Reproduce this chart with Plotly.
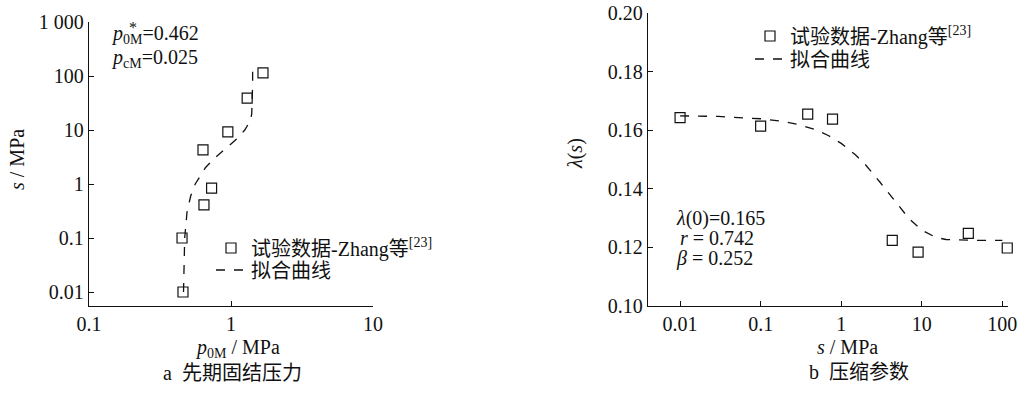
import plotly.graph_objects as go

W, H = 1022, 394

# ---- panel a: preconsolidation pressure vs suction ----
a_data_p0 = [0.459, 0.452, 0.645, 0.73, 0.635, 0.95, 1.30, 1.68]
a_data_s = [0.01, 0.1, 0.41, 0.84, 4.27, 9.2, 39, 114]
a_fit_s = [0.01, 0.03, 0.1, 0.3, 0.6, 1, 2, 3, 5, 7, 10, 15, 20, 40, 70, 120]
a_fit_p0 = [0.463, 0.465, 0.472, 0.49, 0.52, 0.56, 0.66, 0.765, 0.95, 1.11,
            1.25, 1.37, 1.40, 1.42, 1.42, 1.42]
a_yticks = [0.01, 0.1, 1, 10, 100, 1000]
a_yticktext = ["0.01", "0.1", "1", "10", "100", "1 000"]
a_xticks = [0.1, 1, 10]
a_xticktext = ["0.1", "1", "10"]

# ---- panel b: compression parameter vs suction ----
b_data_s = [0.01, 0.1, 0.384, 0.78, 4.3, 9.0, 37.8, 115]
b_data_lam = [0.1643, 0.1614, 0.1655, 0.1638, 0.1224, 0.1184, 0.1248, 0.1198]
b_fit_s = [0.01, 0.03, 0.1, 0.2, 0.3, 0.5, 0.7, 1, 1.5, 2, 3, 4, 5, 7, 10,
           15, 20, 30, 50, 100]
b_fit_lam = [0.1649, 0.1647, 0.1639, 0.1629, 0.1619, 0.1600, 0.1581, 0.1555,
             0.1516, 0.1482, 0.1424, 0.1380, 0.1345, 0.1297, 0.1259, 0.1234,
             0.1227, 0.1225, 0.1224, 0.1224]
b_xticks = [0.01, 0.1, 1, 10, 100]
b_xticktext = ["0.01", "0.1", "1", "10", "100"]

legend_data = "试验数据-Zhang等<sup>[23]</sup>"
legend_fit = "拟合曲线"

FONT = "Liberation Serif, Noto Sans CJK SC, serif"
BLACK = "#111111"


def px(x):
    return x / W


def py(y):
    return 1 - y / H


fig = go.Figure()

marker_style = dict(symbol="square-open", size=10, color=BLACK,
                    line=dict(width=1.2, color=BLACK))
line_style = dict(color=BLACK, width=1.3, dash="9px,9px")

fig.add_trace(go.Scatter(x=a_data_p0, y=a_data_s, mode="markers",
                         marker=marker_style, name=legend_data,
                         xaxis="x", yaxis="y", legend="legend",
                         cliponaxis=False))
fig.add_trace(go.Scatter(x=a_fit_p0, y=a_fit_s, mode="lines",
                         line=line_style, name=legend_fit,
                         xaxis="x", yaxis="y", legend="legend3",
                         cliponaxis=False))
fig.add_trace(go.Scatter(x=b_data_s, y=b_data_lam, mode="markers",
                         marker=marker_style, name=legend_data,
                         xaxis="x2", yaxis="y2", legend="legend2",
                         cliponaxis=False))
fig.add_trace(go.Scatter(x=b_fit_s, y=b_fit_lam, mode="lines",
                         line=line_style, name=legend_fit,
                         xaxis="x2", yaxis="y2", legend="legend4",
                         cliponaxis=False))

axis_common = dict(showline=True, linecolor=BLACK, linewidth=1.3,
                   ticks="inside", ticklen=5, tickwidth=1.2, tickcolor=BLACK,
                   showgrid=False, zeroline=False, automargin=False,
                   tickfont=dict(family=FONT, size=20, color=BLACK))

fig.update_layout(
    width=W, height=H,
    margin=dict(l=0, r=0, t=0, b=0, pad=0, autoexpand=False),
    paper_bgcolor="white", plot_bgcolor="white",
    showlegend=True,
    font=dict(family=FONT, size=20, color=BLACK),
    xaxis=dict(axis_common, type="log", range=[-1, 1],
               domain=[px(89), px(373)], anchor="y",
               tickvals=a_xticks, ticktext=a_xticktext),
    yaxis=dict(axis_common, type="log", range=[-2.259, 3],
               domain=[py(306), py(22)], anchor="x",
               tickvals=a_yticks, ticktext=a_yticktext),
    xaxis2=dict(axis_common, type="log", range=[-2.398, 2.07],
                domain=[px(648), px(1008)], anchor="y2",
                tickvals=b_xticks, ticktext=b_xticktext),
    yaxis2=dict(axis_common, range=[0.10, 0.20], dtick=0.02,
                tickformat=".2f",
                domain=[py(306), py(13)], anchor="x2"),
)

legend_common = dict(bgcolor="rgba(0,0,0,0)", borderwidth=0,
                     xanchor="left", yanchor="middle", visible=True,
                     font=dict(family=FONT, size=20, color=BLACK))
fig.update_layout(
    legend=dict(legend_common, x=px(211), y=py(248)),
    legend3=dict(legend_common, x=px(211), y=py(270)),
    legend2=dict(legend_common, x=px(750), y=py(36)),
    legend4=dict(legend_common, x=px(750), y=py(59)),
)

annotations = [
    # panel a parameters
    dict(text="<i>p</i><sub>0M</sub>=0.462", x=px(109), y=py(34),
         xanchor="left", yanchor="middle"),
    dict(text="*", x=px(127), y=py(27), xanchor="left", yanchor="middle",
         font=dict(size=16)),
    dict(text="<i>p</i><sub>cM</sub>=0.025", x=px(109), y=py(59),
         xanchor="left", yanchor="middle"),
    # panel b parameters
    dict(text="<i>λ</i>(0)=0.165", x=px(674), y=py(218),
         xanchor="left", yanchor="middle"),
    dict(text="<i>r</i> = 0.742", x=px(678), y=py(238),
         xanchor="left", yanchor="middle"),
    dict(text="<i>β</i> = 0.252", x=px(674), y=py(258),
         xanchor="left", yanchor="middle"),
    # axis titles
    dict(text="<i>s</i> / MPa", x=px(17), y=py(160), textangle=-90,
         xanchor="center", yanchor="middle"),
    dict(text="<i>p</i><sub>0M</sub> / MPa", x=px(237), y=py(348),
         xanchor="center", yanchor="middle"),
    dict(text="<i>λ</i>(<i>s</i>)", x=px(576), y=py(154), textangle=-90,
         xanchor="center", yanchor="middle"),
    dict(text="<i>s</i> / MPa", x=px(847), y=py(347),
         xanchor="center", yanchor="middle"),
    # panel captions
    dict(text="a  先期固结压力", x=px(232), y=py(373),
         xanchor="center", yanchor="middle"),
    dict(text="b  压缩参数", x=px(859), y=py(372),
         xanchor="center", yanchor="middle"),
]
for a in annotations:
    a.setdefault("font", {})
    a["font"] = dict(dict(family=FONT, size=20, color=BLACK), **a["font"])
    fig.add_annotation(xref="paper", yref="paper", showarrow=False, **a)

fig.write_html("out.html")
